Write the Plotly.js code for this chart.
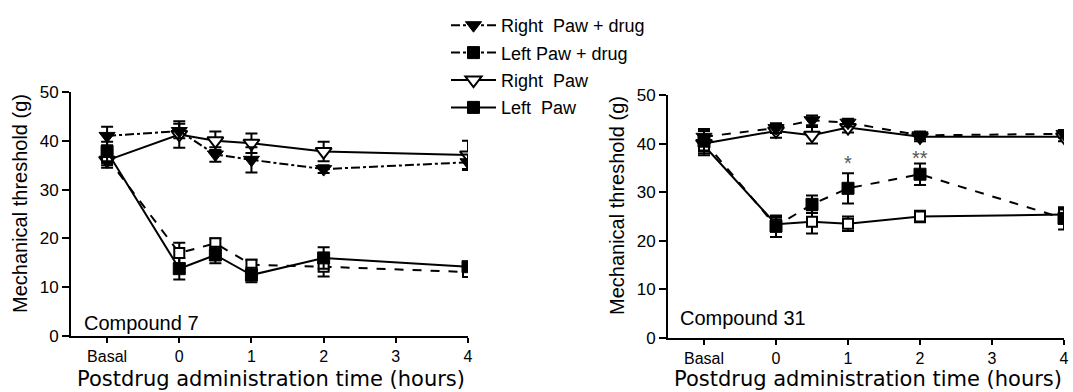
<!DOCTYPE html>
<html>
<head>
<meta charset="utf-8">
<script src="https://cdn.plot.ly/plotly-3.0.1.min.js"></script>
<style>html,body{margin:0;padding:0;background:#fff}#chart{width:1073px;height:392px}</style>
</head>
<body>
<div id="chart"></div>
<script>
// ---- data ----
const timeTicks = [-1, 0, 1, 2, 3, 4];
const timeLabels = ['Basal', '0', '1', '2', '3', '4'];
const timePoints = [-1, 0, 0.5, 1, 2, 4];

// Compound 7
const c7RightDrug    = [41.0, 42.0, 37.2, 36.1, 34.2, 35.6];
const c7RightDrugErr = [1.9, 1.5, 1.5, 2.6, 0.8, 1.6];
const c7Right        = [36.0, 41.3, 40.0, 39.5, 37.8, 37.1];
const c7RightErr     = [1.5, 2.7, 1.9, 2.0, 2.0, 2.9];
const c7LeftDrug     = [36.5, 17.0, 19.0, 14.6, 14.2, 13.1];
const c7LeftDrugErr  = [1.5, 2.1, 1.0, 1.0, 2.0, 0.8];
const c7Left         = [37.8, 13.8, 16.6, 12.5, 16.0, 14.2];
const c7LeftErr      = [2.0, 2.2, 1.7, 1.5, 2.2, 0.8];

// Compound 31
const c31RightDrug    = [41.4, 43.2, 44.8, 44.3, 41.7, 42.0];
const c31RightDrugErr = [1.2, 1.0, 1.0, 0.8, 0.8, 0.8];
const c31Right        = [40.0, 42.6, 41.7, 43.3, 41.4, 41.4];
const c31RightErr     = [1.5, 1.4, 1.7, 1.0, 0.9, 0.9];
const c31LeftDrug     = [40.5, 23.0, 27.5, 30.8, 33.7, 24.6];
const c31LeftDrugErr  = [2.5, 2.2, 1.8, 3.1, 2.2, 2.3];
const c31Left         = [39.6, 23.4, 23.9, 23.5, 25.0, 25.4];
const c31LeftErr      = [2.0, 1.5, 2.4, 1.5, 1.2, 1.2];

// significance marks (compound 31)
const sigX = [1, 2];
const sigY = [36.0, 37.0];
const sigText = ['*', '**'];

const legendNames = ['Right\u00a0 Paw + drug', 'Left Paw + drug', 'Right\u00a0 Paw', 'Left\u00a0 Paw'];
const panelLabels = ['Compound 7', 'Compound 31'];
const xTitle = 'Postdrug administration time (hours)';
const yTitle = 'Mechanical threshold (g)';

// ---- styles ----
const FONT = 'Liberation Sans, Arial, sans-serif';
const WIDE = 'DejaVu Sans, Verdana, sans-serif';
const K = '#000';
const filledTri = {symbol: 'triangle-down', size: 14, color: K, line: {color: K, width: 1}};
const openTri = {symbol: 'triangle-down', size: 14, color: '#fff', line: {color: K, width: 2}};
const filledSq = {symbol: 'square', size: 12, color: K, line: {color: K, width: 1}};
const openSq = {symbol: 'square', size: 10, color: '#fff', line: {color: K, width: 2}};

function series(y, err, marker, dash, xa, ya) {
  return {
    x: timePoints, y: y, xaxis: xa, yaxis: ya, type: 'scatter', mode: 'lines+markers',
    line: {color: K, width: 2, dash: dash}, marker: marker,
    error_y: {type: 'data', array: err, visible: true, color: K, thickness: 2, width: 6},
    showlegend: false, hoverinfo: 'x+y'
  };
}

const traces = [
  series(c7Right, c7RightErr, openTri, 'solid', 'x', 'y'),
  series(c7RightDrug, c7RightDrugErr, filledTri, 'dashdot', 'x', 'y'),
  series(c7LeftDrug, c7LeftDrugErr, openSq, 'dash', 'x', 'y'),
  series(c7Left, c7LeftErr, filledSq, 'solid', 'x', 'y'),
  series(c31Right, c31RightErr, openTri, 'solid', 'x2', 'y2'),
  series(c31Left, c31LeftErr, openSq, 'solid', 'x2', 'y2'),
  series(c31RightDrug, c31RightDrugErr, filledTri, 'dash', 'x2', 'y2'),
  series(c31LeftDrug, c31LeftDrugErr, filledSq, 'dash', 'x2', 'y2')
];

// legend-only entries
const legendMarkers = [filledTri, filledSq, openTri, filledSq];
const legendDash = ['dashdot', 'dashdot', 'solid', 'solid'];
legendNames.forEach((n, i) => {
  traces.push({
    x: [null], y: [null], type: 'scatter', mode: 'lines+markers', name: n,
    line: {color: K, width: 2, dash: legendDash[i]}, marker: legendMarkers[i],
    showlegend: true, legendgroup: 'g' + i, xaxis: 'x', yaxis: 'y'
  });
});

function xAxis(domain, anchor) {
  return {
    domain: domain, anchor: anchor, range: [-1.5, 4], tickmode: 'array',
    tickvals: timeTicks, ticktext: timeLabels, showline: true, linecolor: K, linewidth: 2,
    ticks: 'outside', ticklen: 5, tickwidth: 2, tickcolor: K, showgrid: false, zeroline: false,
    tickfont: {family: FONT, size: 16, color: K}
  };
}
function yAxis(domain, anchor) {
  return {
    domain: domain, anchor: anchor, range: [0, 50], dtick: 10, showline: true, linecolor: K, linewidth: 2,
    ticks: 'outside', ticklen: 7, tickwidth: 2, tickcolor: K, showgrid: false, zeroline: false,
    tickfont: {family: FONT, size: 17, color: K}
  };
}

const W = 1073, H = 392;
const py = p => (H - p) / H;
const annotations = [
  {xref: 'paper', yref: 'paper', x: 82 / W, y: py(323), xanchor: 'left', yanchor: 'middle',
   text: panelLabels[0], showarrow: false, font: {family: FONT, size: 20, color: K}},
  {xref: 'paper', yref: 'paper', x: 678 / W, y: py(318), xanchor: 'left', yanchor: 'middle',
   text: panelLabels[1], showarrow: false, font: {family: FONT, size: 20, color: K}},
  {xref: 'paper', yref: 'paper', x: 271 / W, y: py(379), xanchor: 'center', yanchor: 'middle',
   text: xTitle, showarrow: false, font: {family: WIDE, size: 21, color: K}},
  {xref: 'paper', yref: 'paper', x: 868 / W, y: py(379), xanchor: 'center', yanchor: 'middle',
   text: xTitle, showarrow: false, font: {family: WIDE, size: 21, color: K}},
  {xref: 'paper', yref: 'paper', x: 20 / W, y: py(204), xanchor: 'center', yanchor: 'middle', textangle: -90,
   text: yTitle, showarrow: false, font: {family: FONT, size: 20, color: K}},
  {xref: 'paper', yref: 'paper', x: 617 / W, y: py(206), xanchor: 'center', yanchor: 'middle', textangle: -90,
   text: yTitle, showarrow: false, font: {family: FONT, size: 20, color: K}}
];
sigX.forEach((x, i) => annotations.push({
  xref: 'x2', yref: 'y2', x: x, y: sigY[i], text: sigText[i], showarrow: false,
  xanchor: 'center', yanchor: 'middle', font: {family: FONT, size: 20, color: '#555'}
}));

const layout = {
  width: W, height: H, margin: {l: 0, r: 0, t: 0, b: 0},
  paper_bgcolor: '#fff', plot_bgcolor: '#fff',
  font: {family: FONT, color: K},
  xaxis: xAxis([71 / W, 468 / W], 'y'),
  yaxis: yAxis([py(336), py(92)], 'x'),
  xaxis2: xAxis([668 / W, 1064 / W], 'y2'),
  yaxis2: yAxis([py(338), py(95)], 'x2'),
  showlegend: true,
  legend: {x: 446 / W, y: py(7), xanchor: 'left', yanchor: 'top', bgcolor: 'rgba(0,0,0,0)',
    font: {family: FONT, size: 18, color: K}, traceorder: 'grouped', tracegroupgap: 1,
    itemwidth: 45, itemclick: false, itemdoubleclick: false},
  annotations: annotations
};

Plotly.newPlot('chart', traces, layout, {displayModeBar: false, staticPlot: true});
</script>
</body>
</html>
